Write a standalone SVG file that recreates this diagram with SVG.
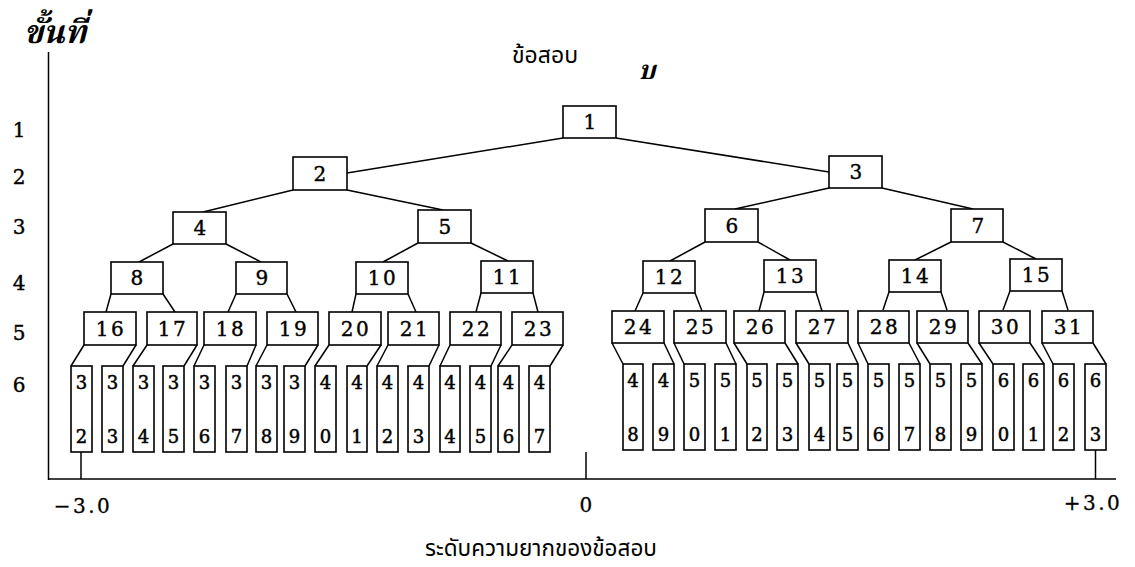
<svg xmlns="http://www.w3.org/2000/svg" width="1135" height="567" viewBox="0 0 1135 567">
<style>
.bx{fill:#fff;stroke:#000;stroke-width:1.6}
.ln{stroke:#000;stroke-width:1.5;fill:none}
.n{font-family:"DejaVu Serif","Liberation Serif",serif;font-size:20px;text-anchor:middle;letter-spacing:2.5px;fill:#000;stroke:#000;stroke-width:0.4}
.d{font-family:"DejaVu Serif","Liberation Serif",serif;font-size:18px;text-anchor:middle;fill:#000;stroke:#000;stroke-width:0.5}
.lv{font-family:"DejaVu Serif","Liberation Serif",serif;font-size:20px;text-anchor:middle;fill:#000;stroke:#000;stroke-width:0.4}
.ax{font-family:"DejaVu Serif","Liberation Serif",serif;font-size:20px;text-anchor:middle;letter-spacing:2.5px;fill:#000;stroke:#000;stroke-width:0.3}
.th{font-family:"Noto Sans Thai","Noto Sans","DejaVu Sans",sans-serif;fill:#000}
.ti{font-family:"Noto Serif Thai","Liberation Serif","DejaVu Serif",serif;font-weight:bold;font-style:italic;fill:#000}
</style>
<rect width="1135" height="567" fill="#fff"/>
<g id="axes" class="ln">
<line x1="48.5" y1="52" x2="48.5" y2="480"/>
<line x1="48" y1="479" x2="1116" y2="479"/>
<line x1="81" y1="452" x2="81" y2="479"/>
<line x1="586" y1="452" x2="586" y2="479"/>
<line x1="1095.5" y1="450" x2="1095.5" y2="479"/>
</g>
<g id="labels">
<text class="ti" x="24" y="43" font-size="32">ขั้นที่</text>
<text class="th" x="512" y="63" font-size="23">ข้อสอบ</text>
<text class="ti" x="647" y="79" font-size="26" text-anchor="middle">บ</text>
<text class="th" x="541" y="556" font-size="22.5" text-anchor="middle">ระดับความยากของข้อสอบ</text>
<text class="lv" x="19" y="137">1</text>
<text class="lv" x="19" y="184">2</text>
<text class="lv" x="19" y="234">3</text>
<text class="lv" x="19" y="290">4</text>
<text class="lv" x="19" y="340">5</text>
<text class="lv" x="19" y="392">6</text>
<text class="ax" x="83" y="513">−3.0</text>
<text class="ax" x="587" y="512">0</text>
<text class="ax" x="1093" y="510">+3.0</text>
</g>
<g id="connectors" class="ln">
<line x1="563" y1="138" x2="347" y2="173"/>
<line x1="616" y1="138" x2="829" y2="172"/>
<line x1="293" y1="190" x2="203" y2="212"/>
<line x1="347" y1="190" x2="443" y2="210"/>
<line x1="829" y1="188" x2="735" y2="209"/>
<line x1="882" y1="188" x2="973" y2="209"/>
<line x1="173" y1="244" x2="139" y2="262"/>
<line x1="226" y1="244" x2="261" y2="262"/>
<line x1="418" y1="243" x2="383" y2="262"/>
<line x1="471" y1="243" x2="508" y2="261"/>
<line x1="705" y1="242" x2="670" y2="261"/>
<line x1="758" y1="242" x2="790" y2="260"/>
<line x1="951" y1="242" x2="915" y2="260"/>
<line x1="1003" y1="242" x2="1036" y2="259"/>
<line x1="111" y1="294" x2="106" y2="312"/>
<line x1="163" y1="294" x2="175" y2="312"/>
<line x1="236" y1="294" x2="228" y2="312"/>
<line x1="287" y1="294" x2="296" y2="312"/>
<line x1="356" y1="294" x2="352" y2="312"/>
<line x1="408" y1="294" x2="416" y2="312"/>
<line x1="481" y1="293" x2="476" y2="312"/>
<line x1="533" y1="293" x2="538" y2="312"/>
<line x1="643" y1="293" x2="635" y2="311"/>
<line x1="695" y1="293" x2="702" y2="311"/>
<line x1="764" y1="292" x2="759" y2="311"/>
<line x1="816" y1="292" x2="822" y2="311"/>
<line x1="889" y1="292" x2="883" y2="310"/>
<line x1="941" y1="292" x2="947" y2="310"/>
<line x1="1010" y1="291" x2="1003" y2="310"/>
<line x1="1062" y1="291" x2="1068" y2="310"/>
<line x1="84" y1="345" x2="71" y2="366"/><line x1="136" y1="345" x2="123" y2="366"/>
<line x1="147" y1="345" x2="133" y2="366"/><line x1="197" y1="345" x2="184" y2="366"/>
<line x1="204" y1="345" x2="194" y2="366"/><line x1="256" y1="345" x2="247" y2="366"/>
<line x1="267" y1="345" x2="256" y2="366"/><line x1="318" y1="345" x2="305" y2="366"/>
<line x1="329" y1="345" x2="315" y2="366"/><line x1="381" y1="345" x2="367" y2="366"/>
<line x1="388" y1="345" x2="377" y2="366"/><line x1="439" y1="345" x2="429" y2="366"/>
<line x1="450" y1="345" x2="440" y2="366"/><line x1="501" y1="345" x2="491" y2="366"/>
<line x1="512" y1="345" x2="498" y2="366"/><line x1="563" y1="345" x2="550" y2="366"/>
<line x1="612" y1="343" x2="623" y2="364"/><line x1="664" y1="343" x2="674" y2="364"/>
<line x1="674" y1="343" x2="684" y2="364"/><line x1="726" y1="343" x2="736" y2="364"/>
<line x1="734" y1="343" x2="747" y2="364"/><line x1="785" y1="343" x2="798" y2="364"/>
<line x1="796" y1="343" x2="809" y2="364"/><line x1="848" y1="343" x2="858" y2="364"/>
<line x1="858" y1="343" x2="868" y2="364"/><line x1="909" y1="343" x2="920" y2="364"/>
<line x1="917" y1="343" x2="930" y2="364"/><line x1="968" y1="343" x2="982" y2="364"/>
<line x1="979" y1="343" x2="993" y2="364"/><line x1="1030" y1="343" x2="1044" y2="364"/>
<line x1="1042" y1="343" x2="1053" y2="364"/><line x1="1093" y1="343" x2="1106" y2="364"/>
</g>
<g id="n1"><rect class="bx" x="563" y="106" width="53" height="32"/><text class="n" x="591" y="129">1</text></g>
<g id="n2"><rect class="bx" x="293" y="157" width="54" height="33"/><text class="n" x="321" y="181">2</text></g>
<g id="n3"><rect class="bx" x="829" y="156" width="53" height="32"/><text class="n" x="857" y="179">3</text></g>
<g id="n4"><rect class="bx" x="173" y="212" width="53" height="32"/><text class="n" x="201" y="235">4</text></g>
<g id="n5"><rect class="bx" x="418" y="210" width="53" height="33"/><text class="n" x="446" y="234">5</text></g>
<g id="n6"><rect class="bx" x="705" y="209" width="53" height="33"/><text class="n" x="733" y="233">6</text></g>
<g id="n7"><rect class="bx" x="951" y="209" width="52" height="33"/><text class="n" x="979" y="233">7</text></g>
<g id="n8"><rect class="bx" x="111" y="262" width="52" height="32"/><text class="n" x="138" y="285">8</text></g>
<g id="n9"><rect class="bx" x="236" y="262" width="51" height="32"/><text class="n" x="263" y="285">9</text></g>
<g id="n10"><rect class="bx" x="356" y="262" width="52" height="32"/><text class="n" x="383" y="285">10</text></g>
<g id="n11"><rect class="bx" x="481" y="261" width="52" height="32"/><text class="n" x="508" y="284">11</text></g>
<g id="n12"><rect class="bx" x="643" y="261" width="52" height="32"/><text class="n" x="670" y="284">12</text></g>
<g id="n13"><rect class="bx" x="764" y="260" width="52" height="32"/><text class="n" x="791" y="283">13</text></g>
<g id="n14"><rect class="bx" x="889" y="260" width="52" height="32"/><text class="n" x="916" y="283">14</text></g>
<g id="n15"><rect class="bx" x="1010" y="259" width="52" height="32"/><text class="n" x="1037" y="282">15</text></g>
<g id="n16"><rect class="bx" x="84" y="312" width="52" height="33"/><text class="n" x="111" y="336">16</text></g>
<g id="n17"><rect class="bx" x="147" y="312" width="50" height="33"/><text class="n" x="173" y="336">17</text></g>
<g id="n18"><rect class="bx" x="204" y="312" width="52" height="33"/><text class="n" x="231" y="336">18</text></g>
<g id="n19"><rect class="bx" x="267" y="312" width="51" height="33"/><text class="n" x="294" y="336">19</text></g>
<g id="n20"><rect class="bx" x="329" y="312" width="52" height="33"/><text class="n" x="356" y="336">20</text></g>
<g id="n21"><rect class="bx" x="388" y="312" width="51" height="33"/><text class="n" x="415" y="336">21</text></g>
<g id="n22"><rect class="bx" x="450" y="312" width="51" height="33"/><text class="n" x="477" y="336">22</text></g>
<g id="n23"><rect class="bx" x="512" y="312" width="51" height="33"/><text class="n" x="539" y="336">23</text></g>
<g id="n24"><rect class="bx" x="612" y="311" width="52" height="32"/><text class="n" x="639" y="334">24</text></g>
<g id="n25"><rect class="bx" x="674" y="311" width="52" height="32"/><text class="n" x="701" y="334">25</text></g>
<g id="n26"><rect class="bx" x="734" y="311" width="51" height="32"/><text class="n" x="761" y="334">26</text></g>
<g id="n27"><rect class="bx" x="796" y="311" width="52" height="32"/><text class="n" x="823" y="334">27</text></g>
<g id="n28"><rect class="bx" x="858" y="311" width="51" height="32"/><text class="n" x="885" y="334">28</text></g>
<g id="n29"><rect class="bx" x="917" y="311" width="51" height="32"/><text class="n" x="944" y="334">29</text></g>
<g id="n30"><rect class="bx" x="979" y="311" width="51" height="32"/><text class="n" x="1006" y="334">30</text></g>
<g id="n31"><rect class="bx" x="1042" y="311" width="51" height="32"/><text class="n" x="1069" y="334">31</text></g>
<g id="n32"><rect class="bx" x="71" y="366" width="21" height="86"/><text class="d" x="81.5" y="389">3</text><text class="d" x="81.5" y="443">2</text></g>
<g id="n33"><rect class="bx" x="102" y="366" width="21" height="86"/><text class="d" x="112.5" y="389">3</text><text class="d" x="112.5" y="443">3</text></g>
<g id="n34"><rect class="bx" x="133" y="366" width="21" height="86"/><text class="d" x="143.5" y="389">3</text><text class="d" x="143.5" y="443">4</text></g>
<g id="n35"><rect class="bx" x="163" y="366" width="21" height="86"/><text class="d" x="173.5" y="389">3</text><text class="d" x="173.5" y="443">5</text></g>
<g id="n36"><rect class="bx" x="194" y="366" width="21" height="86"/><text class="d" x="204.5" y="389">3</text><text class="d" x="204.5" y="443">6</text></g>
<g id="n37"><rect class="bx" x="226" y="366" width="21" height="86"/><text class="d" x="236.5" y="389">3</text><text class="d" x="236.5" y="443">7</text></g>
<g id="n38"><rect class="bx" x="256" y="366" width="21" height="86"/><text class="d" x="266.5" y="389">3</text><text class="d" x="266.5" y="443">8</text></g>
<g id="n39"><rect class="bx" x="284" y="366" width="21" height="86"/><text class="d" x="294.5" y="389">3</text><text class="d" x="294.5" y="443">9</text></g>
<g id="n40"><rect class="bx" x="315" y="366" width="21" height="86"/><text class="d" x="325.5" y="389">4</text><text class="d" x="325.5" y="443">0</text></g>
<g id="n41"><rect class="bx" x="347" y="366" width="20" height="86"/><text class="d" x="357" y="389">4</text><text class="d" x="357" y="443">1</text></g>
<g id="n42"><rect class="bx" x="377" y="366" width="21" height="86"/><text class="d" x="387.5" y="389">4</text><text class="d" x="387.5" y="443">2</text></g>
<g id="n43"><rect class="bx" x="408" y="366" width="21" height="86"/><text class="d" x="418.5" y="389">4</text><text class="d" x="418.5" y="443">3</text></g>
<g id="n44"><rect class="bx" x="440" y="366" width="20" height="86"/><text class="d" x="450" y="389">4</text><text class="d" x="450" y="443">4</text></g>
<g id="n45"><rect class="bx" x="470" y="366" width="21" height="86"/><text class="d" x="480.5" y="389">4</text><text class="d" x="480.5" y="443">5</text></g>
<g id="n46"><rect class="bx" x="498" y="366" width="21" height="86"/><text class="d" x="508.5" y="389">4</text><text class="d" x="508.5" y="443">6</text></g>
<g id="n47"><rect class="bx" x="529" y="366" width="21" height="86"/><text class="d" x="539.5" y="389">4</text><text class="d" x="539.5" y="443">7</text></g>
<g id="n48"><rect class="bx" x="623" y="364" width="20" height="86"/><text class="d" x="633" y="387">4</text><text class="d" x="633" y="441">8</text></g>
<g id="n49"><rect class="bx" x="653" y="364" width="21" height="86"/><text class="d" x="663.5" y="387">4</text><text class="d" x="663.5" y="441">9</text></g>
<g id="n50"><rect class="bx" x="684" y="364" width="21" height="86"/><text class="d" x="694.5" y="387">5</text><text class="d" x="694.5" y="441">0</text></g>
<g id="n51"><rect class="bx" x="715" y="364" width="21" height="86"/><text class="d" x="725.5" y="387">5</text><text class="d" x="725.5" y="441">1</text></g>
<g id="n52"><rect class="bx" x="747" y="364" width="20" height="86"/><text class="d" x="757" y="387">5</text><text class="d" x="757" y="441">2</text></g>
<g id="n53"><rect class="bx" x="777" y="364" width="21" height="86"/><text class="d" x="787.5" y="387">5</text><text class="d" x="787.5" y="441">3</text></g>
<g id="n54"><rect class="bx" x="809" y="364" width="21" height="86"/><text class="d" x="819.5" y="387">5</text><text class="d" x="819.5" y="441">4</text></g>
<g id="n55"><rect class="bx" x="837" y="364" width="21" height="86"/><text class="d" x="847.5" y="387">5</text><text class="d" x="847.5" y="441">5</text></g>
<g id="n56"><rect class="bx" x="868" y="364" width="21" height="86"/><text class="d" x="878.5" y="387">5</text><text class="d" x="878.5" y="441">6</text></g>
<g id="n57"><rect class="bx" x="899" y="364" width="21" height="86"/><text class="d" x="909.5" y="387">5</text><text class="d" x="909.5" y="441">7</text></g>
<g id="n58"><rect class="bx" x="930" y="364" width="21" height="86"/><text class="d" x="940.5" y="387">5</text><text class="d" x="940.5" y="441">8</text></g>
<g id="n59"><rect class="bx" x="961" y="364" width="21" height="86"/><text class="d" x="971.5" y="387">5</text><text class="d" x="971.5" y="441">9</text></g>
<g id="n60"><rect class="bx" x="993" y="364" width="21" height="86"/><text class="d" x="1003.5" y="387">6</text><text class="d" x="1003.5" y="441">0</text></g>
<g id="n61"><rect class="bx" x="1023" y="364" width="21" height="86"/><text class="d" x="1033.5" y="387">6</text><text class="d" x="1033.5" y="441">1</text></g>
<g id="n62"><rect class="bx" x="1053" y="364" width="21" height="86"/><text class="d" x="1063.5" y="387">6</text><text class="d" x="1063.5" y="441">2</text></g>
<g id="n63"><rect class="bx" x="1085" y="364" width="21" height="86"/><text class="d" x="1095.5" y="387">6</text><text class="d" x="1095.5" y="441">3</text></g>
</svg>
